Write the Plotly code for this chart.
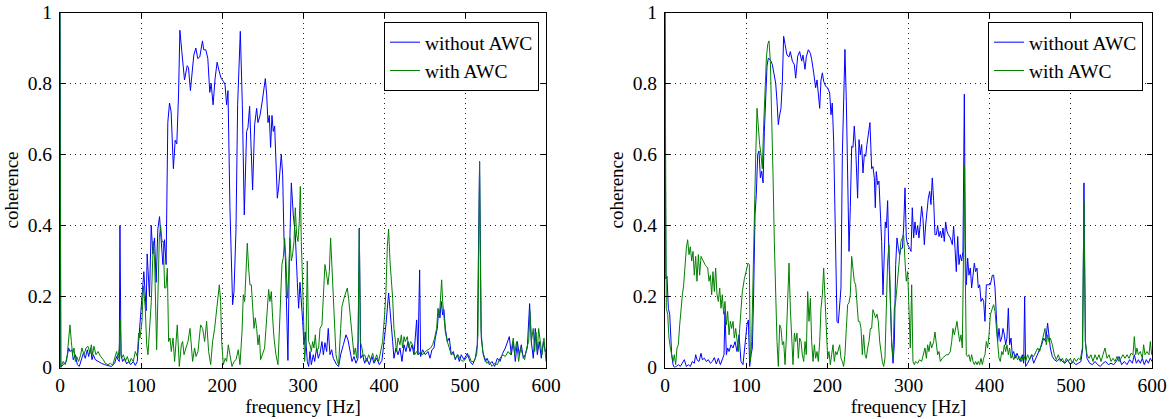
import plotly.graph_objects as go

# ---------------- data (frequency [Hz], coherence) ----------------
left_without_awc = [
    (0, 1.0), (1, 0.0), (3.7, 0.008), (7.8, 0.017), (10.7, 0.055), (12.3, 0.045), (14.8, 0.05), (16.4, 0.022),
    (18.9, 0.036), (21.4, 0.008), (23.8, 0.003), (26.3, 0.022), (28.8, 0.04), (31.2, 0.026), (33.7, 0.05),
    (35.4, 0.031), (37.8, 0.055), (39.5, 0.022), (41.1, 0.036), (43.6, 0.022), (46.9, 0.017), (51, 0.012),
    (55.1, 0.008), (59.2, 0.006), (63.3, 0.003), (67.5, 0.012), (69.9, 0.031), (71.6, 0.022), (73.2, 0.017),
    (74, 0.40), (75.3, 0.036), (77.3, 0.017), (79.8, 0.026), (82.3, 0.01), (84.7, 0.017), (87.2, 0.008),
    (90.5, 0.017), (93, 0.006), (95.4, 0.017), (97.1, 0.073), (99.5, 0.14), (102, 0.21), (103.5, 0.27),
    (106.4, 0.16), (107.6, 0.32), (110.5, 0.20), (112.6, 0.40), (114.6, 0.32), (116.7, 0.365), (118.7, 0.24),
    (120.8, 0.39), (122.9, 0.425), (124.9, 0.34), (127, 0.29), (129, 0.36), (131, 0.29), (133.1, 0.69),
    (135.2, 0.745), (137.2, 0.72), (140, 0.56), (142.2, 0.64), (144.2, 0.63), (146.3, 0.765), (148, 0.95),
    (150.4, 0.89), (153.7, 0.81), (157, 0.85), (158.6, 0.845), (161, 0.78), (163.5, 0.845), (165.2, 0.88),
    (167.7, 0.90), (170.1, 0.87), (172.6, 0.875), (175.9, 0.92), (177.5, 0.895), (180, 0.895), (182.5, 0.87),
    (184.9, 0.775), (186.6, 0.80), (189, 0.74), (191.5, 0.815), (194, 0.86), (196.4, 0.835), (198.9, 0.815),
    (201.6, 0.806), (203.7, 0.797), (205.7, 0.74), (207.4, 0.78), (209.8, 0.45), (213.1, 0.177), (214.8, 0.214),
    (217.3, 0.39), (219.3, 0.74), (222.6, 0.947), (225.1, 0.74), (227.5, 0.43), (230.4, 0.665), (232, 0.675),
    (234.1, 0.736), (236.2, 0.58), (237.8, 0.50), (240.3, 0.684), (242.8, 0.73), (244.4, 0.69), (246.9, 0.71),
    (249.4, 0.745), (253.5, 0.814), (255.1, 0.77), (256.8, 0.69), (258.4, 0.71), (260, 0.62), (261.7, 0.71),
    (263.3, 0.665), (265, 0.68), (266.6, 0.60), (268.3, 0.477), (269.9, 0.506), (271.6, 0.56), (273.2, 0.60),
    (274.9, 0.543), (276.5, 0.365), (278.2, 0.31), (279.8, 0.167), (281.4, 0.02), (283.1, 0.30), (285.6, 0.52),
    (288, 0.43), (290.5, 0.374), (293, 0.24), (294.6, 0.167), (296.3, 0.24), (297.9, 0.167), (299.6, 0.13),
    (301.2, 0.064), (302.8, 0.10), (305.3, 0.017), (307, 0.003), (308.6, 0.045), (310.3, 0.008), (312.7, 0.036),
    (314.4, 0.017), (316.8, 0.055), (318.9, 0.026), (321, 0.04), (323.4, 0.073), (325.1, 0.036), (327.1, 0.07),
    (329.2, 0.045), (331.2, 0.11), (333.3, 0.036), (335.4, 0.05), (337.4, 0.026), (341.5, 0.008), (344, 0.003),
    (346.5, 0.036), (349.8, 0.064), (353.1, 0.092), (355.5, 0.078), (358, 0.045), (360.5, 0.017), (363, 0.031),
    (365.4, 0.012), (367.9, 0.026), (369.5, 0.393), (371.2, 0.026), (373.6, 0.036), (376.1, 0.012), (378.6, 0.026),
    (381.9, 0.008), (385.1, 0.031), (387.6, 0.012), (390.9, 0.026), (394.2, 0.008), (397.5, 0.02), (400, 0.073),
    (402.4, 0.12), (405.7, 0.21), (408.2, 0.15), (410.7, 0.073), (412.3, 0.026), (414.8, 0.055), (417.3, 0.036),
    (419.7, 0.055), (422.2, 0.017), (424.7, 0.064), (427.1, 0.045), (429.6, 0.073), (432.1, 0.045), (434.5, 0.064),
    (437, 0.036), (440.3, 0.134), (441.9, 0.036), (444, 0.275), (445.2, 0.031), (447.7, 0.05), (451, 0.036),
    (454.3, 0.045), (456.8, 0.026), (459.2, 0.05), (461.7, 0.055), (463.3, 0.083), (465.8, 0.11), (467.5, 0.163),
    (469.1, 0.14), (470.7, 0.186), (472.4, 0.148), (474, 0.163), (475.7, 0.11), (478.2, 0.073), (480.6, 0.083),
    (483.1, 0.036), (485.6, 0.045), (488, 0.022), (490.5, 0.036), (493, 0.017), (495.4, 0.036), (498.7, 0.022),
    (502.8, 0.04), (506.1, 0.017), (509.4, 0.008), (512.7, 0.026), (515.2, 0.064), (518, 0.58), (520.1, 0.083),
    (522.6, 0.036), (525.1, 0.017), (527.5, 0.026), (530, 0.008), (533.3, 0.017), (536.6, 0.003), (539.9, 0.026),
    (543.2, 0.017), (546.5, 0.04), (549.8, 0.055), (552.2, 0.073), (554.7, 0.087), (557.2, 0.036), (559.6, 0.073),
    (562.1, 0.017), (564.6, 0.073), (567, 0.036), (569.5, 0.064), (572, 0.026), (574.4, 0.036), (576.9, 0.055),
    (579.8, 0.18), (581.9, 0.073), (584.3, 0.026), (586.8, 0.11), (589.3, 0.036), (591.7, 0.073), (594.2, 0.026),
    (596.7, 0.073), (599.1, 0.045), (600, 0.05),
]

left_with_awc = [
    (0, 1.0), (1, 0.0), (3.7, 0.017), (6.5, 0.008), (9, 0.036), (10.7, 0.073), (12.3, 0.12), (14, 0.073),
    (15.6, 0.036), (17.3, 0.055), (18.9, 0.017), (20.5, 0.031), (23, 0.017), (25.5, 0.036), (27.1, 0.055),
    (29.6, 0.036), (32.1, 0.055), (34.5, 0.06), (37, 0.04), (38.7, 0.064), (40.3, 0.036), (41.9, 0.06),
    (44.4, 0.036), (46.9, 0.045), (50.2, 0.031), (53.5, 0.022), (55.9, 0.012), (59.2, 0.008), (62.5, 0.012),
    (65, 0.006), (67.5, 0.026), (69.9, 0.045), (71.6, 0.026), (73.2, 0.055), (74.4, 0.135), (75.7, 0.026),
    (78.2, 0.036), (80.6, 0.017), (83.1, 0.031), (85.6, 0.012), (88, 0.026), (90.5, 0.017), (93, 0.045),
    (95.4, 0.031), (97.1, 0.097), (98.7, 0.083), (101.2, 0.13), (102.8, 0.23), (105.3, 0.167), (107, 0.064),
    (108.6, 0.036), (110.7, 0.11), (112.7, 0.186), (115.2, 0.355), (116.8, 0.30), (119.3, 0.05), (121, 0.186),
    (122.6, 0.365), (124.2, 0.40), (125.9, 0.355), (127.5, 0.355), (129.2, 0.224), (130.8, 0.224), (132.5, 0.28),
    (134.1, 0.073), (135.8, 0.083), (137.4, 0.045), (139.5, 0.083), (141.5, 0.017), (143.2, 0.083), (144.8, 0.12),
    (147.3, 0.003), (149.8, 0.064), (151.4, 0.073), (153.1, 0.036), (155.5, 0.055), (158, 0.073), (160.5, 0.11),
    (162.1, 0.064), (163.7, 0.017), (166.2, 0.055), (167.9, 0.031), (170.3, 0.045), (173.6, 0.12), (176.1, 0.11),
    (178.6, 0.073), (181, 0.13), (183.5, 0.045), (186, 0.008), (188.4, 0.073), (190.9, 0.11), (193.4, 0.167),
    (195, 0.205), (196.7, 0.233), (198.3, 0.186), (199.6, 0.073), (201.6, 0.008), (204, 0.026), (205.7, 0.017),
    (207.8, 0.064), (209.8, 0.036), (212.3, 0.003), (214.8, 0.017), (217.3, 0.022), (220.1, 0.05), (222.2, 0.008),
    (224.7, 0.10), (226.3, 0.205), (228, 0.186), (229.6, 0.25), (231.2, 0.35), (232.9, 0.28), (234.5, 0.233),
    (236.2, 0.233), (237.8, 0.167), (239.5, 0.11), (241.1, 0.14), (242.8, 0.11), (244.4, 0.064), (246.1, 0.092),
    (247.7, 0.022), (250.2, 0.036), (252.6, 0.055), (254.3, 0.11), (255.9, 0.167), (257.6, 0.22), (259.2, 0.186),
    (260.9, 0.214), (262.5, 0.14), (264.2, 0.083), (266.6, 0.036), (269.1, 0.008), (271.6, 0.15), (274, 0.29),
    (275.7, 0.31), (277.3, 0.365), (279, 0.30), (280.6, 0.195), (282.3, 0.26), (283.9, 0.365), (285.6, 0.30),
    (287.2, 0.32), (288.9, 0.355), (290.5, 0.45), (292.1, 0.374), (293.8, 0.355), (295.4, 0.41), (296.7, 0.51),
    (297.9, 0.355), (299.1, 0.28), (300.4, 0.167), (302, 0.017), (303.7, 0.073), (305.3, 0.30), (307, 0.073),
    (308.6, 0.064), (310.3, 0.045), (311.9, 0.073), (313.5, 0.055), (315.2, 0.092), (316.8, 0.045), (319.3, 0.055),
    (321, 0.11), (323.4, 0.12), (325.1, 0.186), (327.1, 0.29), (329.2, 0.26), (330.8, 0.233), (332.5, 0.27),
    (334.1, 0.365), (335.8, 0.28), (337.4, 0.195), (339.1, 0.11), (340.7, 0.036), (342.4, 0.017), (344, 0.008),
    (346.5, 0.11), (348.1, 0.172), (350.6, 0.195), (353.1, 0.214), (354.7, 0.224), (356.3, 0.195), (358, 0.15),
    (359.6, 0.125), (361.3, 0.073), (362.9, 0.036), (364.6, 0.055), (366.2, 0.026), (367.9, 0.073), (369.5, 0.39),
    (370.8, 0.073), (372.8, 0.055), (374.4, 0.031), (376.1, 0.036), (378.6, 0.017), (381, 0.036), (383.5, 0.022),
    (386, 0.04), (388.4, 0.017), (390.9, 0.036), (393.4, 0.017), (395.8, 0.045), (398.3, 0.073), (400.8, 0.15),
    (402.4, 0.214), (404.1, 0.34), (405.7, 0.39), (407.4, 0.30), (409, 0.26), (410.7, 0.195), (412.3, 0.11),
    (414, 0.073), (415.6, 0.045), (417.3, 0.083), (419.7, 0.064), (421.4, 0.092), (423, 0.055), (424.7, 0.087),
    (426.3, 0.073), (428.8, 0.087), (430.4, 0.055), (432.9, 0.073), (435.4, 0.064), (437.8, 0.036), (440.3, 0.045),
    (442.8, 0.036), (445.2, 0.045), (447.7, 0.036), (451, 0.045), (454.3, 0.05), (457.6, 0.055), (460, 0.064),
    (462.5, 0.083), (465, 0.11), (466.6, 0.167), (468.3, 0.14), (469.9, 0.195), (471.2, 0.247), (472.4, 0.186),
    (474, 0.15), (475.7, 0.10), (478.2, 0.073), (480.6, 0.055), (483.1, 0.036), (485.6, 0.04), (488, 0.026),
    (491.3, 0.036), (494.6, 0.022), (497.9, 0.017), (501.2, 0.026), (504.5, 0.036), (507.8, 0.017), (511.1, 0.017),
    (514.4, 0.036), (516, 0.092), (518, 0.58), (519.7, 0.11), (521.8, 0.045), (524.2, 0.026), (526.7, 0.012),
    (530, 0.017), (533.3, 0.003), (536.6, 0.012), (539.9, 0.008), (543.2, 0.026), (546.5, 0.036), (549.8, 0.031),
    (553.1, 0.045), (556.3, 0.036), (559.6, 0.083), (561.3, 0.036), (563.7, 0.073), (566.2, 0.017), (568.7, 0.055),
    (571.2, 0.036), (573.6, 0.022), (576.1, 0.055), (578.6, 0.073), (580.2, 0.158), (581.9, 0.073), (584.3, 0.11),
    (586, 0.045), (587.6, 0.10), (589.3, 0.045), (590.9, 0.11), (593.4, 0.055), (595, 0.036), (597.5, 0.083),
    (600, 0.017),
]

right_without_awc = [
    (0, 1.0), (1, 0.25), (2.5, 0.257), (4.1, 0.167), (5.8, 0.15), (6.6, 0.092), (8.2, 0.036), (9.9, 0.008),
    (11.5, 0.0), (14, 0.003), (16.4, 0.008), (18.9, 0.003), (21.4, 0.012), (23.8, 0.022), (26.3, 0.003),
    (28.8, 0.008), (31.2, 0.003), (33.7, 0.017), (36.1, 0.012), (37.8, 0.036), (39.4, 0.022), (41.9, 0.017),
    (44.4, 0.04), (46, 0.022), (48.5, 0.026), (50.9, 0.017), (53.4, 0.022), (55.9, 0.012), (58.3, 0.017),
    (60.8, 0.028), (63.2, 0.01), (65.7, 0.026), (68.2, 0.008), (70.6, 0.022), (72.7, 0.036), (73.9, 0.158),
    (75.6, 0.036), (77.2, 0.055), (78.9, 0.045), (81.3, 0.064), (83.8, 0.055), (86.3, 0.073), (88.7, 0.045),
    (91.2, 0.092), (93.6, 0.017), (96.1, 0.008), (98.6, 0.073), (101, 0.12), (102.7, 0.134), (104.3, 0.003),
    (106, 0.036), (107.6, 0.055), (109.2, 0.205), (110.9, 0.43), (112.5, 0.487), (114.2, 0.60), (115.8, 0.61),
    (117.5, 0.534), (119.1, 0.553), (120.8, 0.52), (122.4, 0.665), (124, 0.778), (125.7, 0.849), (127.3, 0.872),
    (129, 0.867), (130.6, 0.863), (132.3, 0.853), (134.7, 0.82), (136.4, 0.80), (138, 0.75), (139.6, 0.684),
    (141.3, 0.712), (142.9, 0.73), (144.6, 0.806), (146.2, 0.933), (147.9, 0.91), (150.3, 0.88), (152.8, 0.875),
    (154.4, 0.89), (156.9, 0.863), (159.4, 0.853), (161, 0.815), (163.5, 0.877), (165.9, 0.89), (168.4, 0.863),
    (170, 0.88), (172.5, 0.84), (174.1, 0.875), (176.6, 0.895), (179.1, 0.885), (180.7, 0.868), (183.2, 0.83),
    (185.6, 0.788), (187.3, 0.81), (188.9, 0.778), (190.6, 0.73), (192.2, 0.81), (193.9, 0.83), (195.5, 0.806),
    (198, 0.792), (200.4, 0.788), (202.9, 0.773), (204.5, 0.712), (206.1, 0.745), (207.8, 0.637), (209.4, 0.45),
    (211.9, 0.13), (213.5, 0.125), (215.2, 0.186), (216.8, 0.224), (218.5, 0.60), (220.1, 0.73), (221.7, 0.896),
    (223.4, 0.75), (225, 0.543), (226.7, 0.327), (228.3, 0.45), (230, 0.623), (231.6, 0.62), (233.2, 0.68),
    (234.9, 0.62), (236.5, 0.534), (237.3, 0.477), (239, 0.642), (240.6, 0.60), (242.3, 0.628), (243.9, 0.548),
    (245.6, 0.60), (247.2, 0.595), (248.8, 0.628), (250.5, 0.665), (252.5, 0.69), (254.6, 0.56), (256.2, 0.566),
    (257.9, 0.534), (259.1, 0.45), (260.3, 0.552), (262, 0.515), (263.6, 0.525), (265.3, 0.45), (266.9, 0.355),
    (268.6, 0.205), (270.2, 0.355), (271.4, 0.41), (272.7, 0.393), (274.3, 0.47), (276, 0.30), (277.6, 0.167),
    (279.2, 0.073), (280.9, 0.012), (282.5, 0.064), (284.2, 0.29), (285.8, 0.365), (287.5, 0.336), (289.1, 0.318),
    (290.7, 0.336), (292.4, 0.336), (294, 0.393), (295.7, 0.506), (297.3, 0.365), (299, 0.346), (301.4, 0.336),
    (303.1, 0.327), (304.7, 0.45), (306.3, 0.365), (308, 0.41), (309.6, 0.374), (311.3, 0.40), (312.9, 0.365),
    (314.6, 0.41), (316.2, 0.454), (317.8, 0.42), (319.5, 0.346), (321.1, 0.40), (322.8, 0.45), (324.4, 0.477),
    (326.1, 0.496), (327.7, 0.459), (329.3, 0.534), (331, 0.47), (332.6, 0.374), (334.3, 0.374), (335.9, 0.40),
    (337.6, 0.369), (339.2, 0.384), (340.8, 0.365), (342.5, 0.393), (344.1, 0.355), (345.8, 0.41), (347.4, 0.384),
    (349.1, 0.374), (351.5, 0.365), (354, 0.346), (355.6, 0.398), (357.3, 0.336), (358.9, 0.27), (360.6, 0.369),
    (362.2, 0.29), (363.8, 0.318), (365.5, 0.30), (367.1, 0.327), (368.8, 0.77), (370, 0.355), (371.2, 0.233),
    (372.9, 0.308), (374.5, 0.26), (376.2, 0.28), (377.8, 0.224), (379.5, 0.26), (381.1, 0.294), (382.7, 0.27),
    (384.4, 0.28), (386, 0.224), (387.7, 0.233), (389.3, 0.186), (391, 0.195), (392.6, 0.186), (394.2, 0.13),
    (395.9, 0.233), (398.3, 0.233), (400.8, 0.233), (403.3, 0.26), (404.9, 0.26), (406.6, 0.224), (408.2, 0.13),
    (409.8, 0.073), (411.5, 0.11), (413.1, 0.073), (414.8, 0.083), (416.4, 0.11), (418.1, 0.092), (419.7, 0.064),
    (421.3, 0.083), (423, 0.167), (424.6, 0.064), (426.3, 0.083), (427.9, 0.036), (429.6, 0.045), (431.2, 0.026),
    (433.7, 0.04), (436.1, 0.026), (437.8, 0.017), (440.2, 0.036), (441.9, 0.012), (443.1, 0.20), (444.3, 0.003),
    (446.8, 0.012), (449.3, 0.026), (451.7, 0.036), (454.2, 0.012), (456.7, 0.026), (459.1, 0.036), (461.6, 0.055),
    (464.1, 0.064), (466.5, 0.083), (469, 0.073), (471.4, 0.125), (473.1, 0.083), (474.7, 0.055), (477.2, 0.031),
    (479.7, 0.022), (482.9, 0.017), (486.2, 0.026), (489.5, 0.017), (492.8, 0.012), (496.1, 0.022), (499.4, 0.008),
    (502.7, 0.017), (506, 0.008), (509.2, 0.012), (512.5, 0.017), (514.6, 0.055), (516.2, 0.52), (517.9, 0.073),
    (519.9, 0.026), (523.2, 0.012), (526.5, 0.008), (529.8, 0.017), (533.1, 0.008), (536.3, 0.003), (539.6, 0.012),
    (542.9, 0.017), (546.2, 0.008), (549.5, 0.012), (552.8, 0.008), (556, 0.017), (559.3, 0.031), (562.6, 0.008),
    (565.9, 0.017), (569.2, 0.008), (572.5, 0.022), (575.8, 0.012), (578.2, 0.036), (580.7, 0.012), (583.2, 0.022),
    (585.6, 0.012), (588.1, 0.026), (590.5, 0.008), (593, 0.022), (595.5, 0.012), (597.9, 0.026), (600, 0.017),
]

right_with_awc = [
    (0, 1.0), (1, 0.20), (1.6, 0.167), (3.3, 0.15), (4.9, 0.083), (6.6, 0.055), (8.2, 0.036), (9.9, 0.017),
    (11.5, 0.036), (13.1, 0.008), (14.8, 0.055), (16.4, 0.064), (18.1, 0.12), (19.7, 0.177), (21.4, 0.205),
    (23, 0.233), (24.6, 0.30), (26.3, 0.336), (27.9, 0.36), (29.6, 0.318), (31.2, 0.34), (32.9, 0.30),
    (34.5, 0.327), (36.1, 0.26), (37.8, 0.313), (39.4, 0.243), (41.1, 0.318), (42.7, 0.26), (44.4, 0.313),
    (46, 0.304), (47.7, 0.30), (49.3, 0.29), (50.9, 0.285), (52.6, 0.28), (54.2, 0.243), (55.9, 0.26),
    (57.5, 0.205), (59.1, 0.27), (60.8, 0.214), (62.4, 0.28), (64.1, 0.205), (65.7, 0.186), (67.4, 0.224),
    (69, 0.167), (70.6, 0.205), (72.3, 0.15), (73.9, 0.186), (75.6, 0.12), (77.2, 0.158), (78.9, 0.092),
    (80.5, 0.13), (82.1, 0.11), (83.8, 0.13), (85.4, 0.083), (87.1, 0.11), (88.7, 0.073), (90.4, 0.045),
    (92, 0.11), (93.6, 0.167), (95.3, 0.214), (97.8, 0.25), (100.2, 0.27), (102.3, 0.294), (103.9, 0.29),
    (105.1, 0.017), (106.8, 0.073), (108.4, 0.26), (110.1, 0.45), (111.7, 0.59), (113.4, 0.73), (115, 0.66),
    (116.6, 0.628), (118.3, 0.60), (119.9, 0.56), (121.6, 0.684), (123.2, 0.80), (124.9, 0.872), (126.5, 0.91),
    (128.1, 0.92), (129.8, 0.863), (131.4, 0.73), (133.1, 0.543), (134.7, 0.355), (136.4, 0.186), (138, 0.073),
    (139.6, 0.003), (141.3, 0.12), (142.9, 0.11), (144.6, 0.064), (146.2, 0.073), (147.9, 0.008), (149.5, 0.083),
    (151.1, 0.167), (152.8, 0.294), (154.4, 0.167), (156.1, 0.073), (157.7, 0.008), (159.4, 0.097), (161, 0.073),
    (162.6, 0.097), (164.3, 0.026), (165.9, 0.083), (167.6, 0.073), (169.2, 0.036), (170.9, 0.017), (172.5, 0.073),
    (174.1, 0.036), (175.8, 0.214), (177.4, 0.13), (179.1, 0.195), (180.7, 0.073), (182.4, 0.017), (184, 0.064),
    (185.6, 0.026), (187.3, 0.045), (188.9, 0.017), (190.6, 0.073), (192.2, 0.167), (193.9, 0.205), (195.5, 0.28),
    (197.1, 0.186), (198.7, 0.11), (200.4, 0.026), (202, 0.045), (203.7, 0.008), (205.3, 0.036), (207, 0.064),
    (208.6, 0.017), (210.2, 0.045), (211.9, 0.036), (213.5, 0.055), (215.2, 0.064), (216.8, 0.026), (218.5, 0.017),
    (220.1, 0.003), (221.7, 0.036), (223.4, 0.11), (225, 0.177), (226.7, 0.182), (228.3, 0.205), (230, 0.313),
    (231.6, 0.27), (233.2, 0.243), (234.9, 0.233), (236.5, 0.167), (238.2, 0.13), (239.8, 0.13), (241.5, 0.11),
    (243.1, 0.036), (244.7, 0.092), (246.4, 0.036), (248, 0.026), (249.7, 0.055), (251.3, 0.073), (253, 0.11),
    (254.6, 0.11), (256.2, 0.163), (257.9, 0.15), (259.5, 0.14), (261.2, 0.15), (262.8, 0.13), (264.5, 0.073),
    (266.1, 0.036), (267.7, 0.017), (269.4, 0.003), (271, 0.026), (272.7, 0.167), (274.3, 0.30), (276, 0.346),
    (277.6, 0.186), (279.2, 0.073), (280.9, 0.026), (282.5, 0.167), (284.2, 0.186), (285.8, 0.233), (287.5, 0.26),
    (289.1, 0.327), (290.7, 0.355), (292.4, 0.365), (294, 0.374), (295.7, 0.30), (297.3, 0.243), (299, 0.27),
    (300.6, 0.167), (302.2, 0.055), (303.9, 0.233), (305.5, 0.017), (307.2, 0.008), (308.8, 0.017), (311.3, 0.012),
    (313.7, 0.022), (316.2, 0.017), (318.7, 0.036), (320.3, 0.055), (322, 0.026), (323.6, 0.064), (325.2, 0.045),
    (326.9, 0.073), (328.5, 0.055), (331, 0.073), (332.6, 0.10), (334.3, 0.073), (335.9, 0.036), (337.6, 0.045),
    (339.2, 0.017), (341.7, 0.026), (344.1, 0.031), (346.6, 0.036), (349.1, 0.036), (351.5, 0.045), (353.2, 0.073),
    (354.8, 0.11), (356.5, 0.092), (358.1, 0.115), (359.7, 0.13), (361.4, 0.10), (363, 0.073), (364.7, 0.092),
    (366.3, 0.055), (368, 0.355), (368.8, 0.57), (370, 0.26), (371.2, 0.036), (372.9, 0.031), (374.5, 0.036),
    (376.2, 0.017), (377.8, 0.036), (379.5, 0.017), (381.1, 0.008), (382.7, 0.017), (384.4, 0.008), (386, 0.017),
    (387.7, 0.008), (389.3, 0.026), (391, 0.008), (392.6, 0.026), (394.2, 0.036), (395.9, 0.073), (397.5, 0.055),
    (399.2, 0.092), (400.8, 0.148), (403.3, 0.167), (404.9, 0.177), (406.6, 0.158), (408.2, 0.11), (409.8, 0.055),
    (411.5, 0.026), (413.1, 0.017), (414.8, 0.045), (416.4, 0.036), (418.1, 0.064), (419.7, 0.045), (421.3, 0.064),
    (423, 0.036), (424.6, 0.055), (426.3, 0.026), (427.9, 0.036), (429.6, 0.022), (432, 0.036), (434.5, 0.022),
    (437, 0.031), (439.4, 0.017), (441.9, 0.036), (444.3, 0.017), (446.8, 0.036), (449.3, 0.022), (451.7, 0.036),
    (454.2, 0.031), (456.7, 0.045), (459.1, 0.055), (461.6, 0.045), (464.1, 0.073), (466.5, 0.092), (468.2, 0.11),
    (469.8, 0.064), (471.4, 0.092), (473.1, 0.073), (474.7, 0.083), (477.2, 0.064), (479.7, 0.036), (482.1, 0.022),
    (484.6, 0.036), (487.1, 0.017), (489.5, 0.026), (492, 0.012), (494.4, 0.026), (496.9, 0.017), (499.4, 0.026),
    (501.8, 0.012), (504.3, 0.026), (506.8, 0.017), (509.2, 0.026), (511.7, 0.022), (514.2, 0.055), (516.2, 0.468),
    (517.9, 0.073), (519.9, 0.036), (522.4, 0.026), (524.8, 0.036), (527.3, 0.017), (529.8, 0.036), (532.2, 0.022),
    (534.7, 0.036), (537.2, 0.017), (539.6, 0.036), (542.1, 0.055), (544.6, 0.026), (547, 0.036), (549.5, 0.017),
    (552, 0.026), (554.4, 0.017), (556.9, 0.031), (559.3, 0.017), (561.8, 0.026), (564.3, 0.036), (566.7, 0.026),
    (569.2, 0.036), (571.7, 0.026), (574.1, 0.04), (576.6, 0.036), (578.2, 0.087), (579.9, 0.036), (581.5, 0.055),
    (583.2, 0.036), (585.6, 0.045), (588.1, 0.026), (589.7, 0.064), (591.4, 0.036), (593.8, 0.045), (596.3, 0.036),
    (597.9, 0.073), (599.6, 0.036),
]

series_names = ["without AWC", "with AWC"]
x_ticks = [0, 100, 200, 300, 400, 500, 600]
y_ticks = [0, 0.2, 0.4, 0.6, 0.8, 1]
y_tick_labels = ["0", "0.2", "0.4", "0.6", "0.8", "1"]
x_title = "frequency [Hz]"
y_title = "coherence"

# ---------------- styling ----------------
BLUE = "#0000ff"
GREEN = "#008000"
FONT = "Liberation Serif"

fig = go.Figure()


def add(pairs, name, color, xa, ya, legend, order):
    fx = [p[0] for p in pairs]
    fy = [p[1] for p in pairs]
    fig.add_trace(go.Scatter(
        x=fx, y=fy, mode="lines", name=name,
        line=dict(color=color, width=1),
        xaxis=xa, yaxis=ya, legend=legend, legendrank=order,
    ))


add(left_without_awc, series_names[0], BLUE, "x", "y", "legend", 1)
add(left_with_awc, series_names[1], GREEN, "x", "y", "legend", 2)
add(right_without_awc, series_names[0], BLUE, "x2", "y2", "legend2", 1)
add(right_with_awc, series_names[1], GREEN, "x2", "y2", "legend2", 2)

W, H = 1173, 419
ydom = [1 - 367.5 / H, 1 - 12.5 / H]

axis_common = dict(
    showline=True, linecolor="black", linewidth=1, mirror="ticks",
    ticks="inside", ticklen=5, tickcolor="black", tickwidth=1,
    showgrid=True, gridcolor="#222222", gridwidth=1, griddash="1px,4px",
    zeroline=False, automargin=False,
    tickfont=dict(family=FONT, size=19.5, color="black"),
)

xaxis_common = dict(axis_common, range=[0, 600], tickvals=x_ticks, ticklabelstandoff=0,
                    title=dict(text=x_title, font=dict(family=FONT, size=19, color="black"), standoff=0))
yaxis_common = dict(axis_common, range=[0, 1], tickvals=y_ticks, ticktext=y_tick_labels, ticklabelstandoff=3,
                    title=dict(text=y_title, font=dict(family=FONT, size=19, color="black"), standoff=4))

legend_common = dict(
    bgcolor="white", bordercolor="black", borderwidth=1,
    font=dict(family=FONT, size=19.5, color="black"),
    yanchor="top", xanchor="right", y=1 - 22 / H,
    tracegroupgap=0, itemwidth=30,
)

fig.update_layout(
    template="none",
    width=W, height=H,
    margin=dict(l=0, r=0, t=0, b=0, autoexpand=False),
    paper_bgcolor="white", plot_bgcolor="white",
    font=dict(family=FONT, color="black"),
    xaxis=dict(xaxis_common, domain=[60 / W, 546 / W], anchor="y"),
    yaxis=dict(yaxis_common, domain=ydom, anchor="x"),
    xaxis2=dict(xaxis_common, domain=[665 / W, 1152 / W], anchor="y2"),
    yaxis2=dict(yaxis_common, domain=ydom, anchor="x2"),
    legend=dict(legend_common, x=539 / W),
    legend2=dict(legend_common, x=1143 / W),
    showlegend=True,
)

fig.write_html("out.html")
